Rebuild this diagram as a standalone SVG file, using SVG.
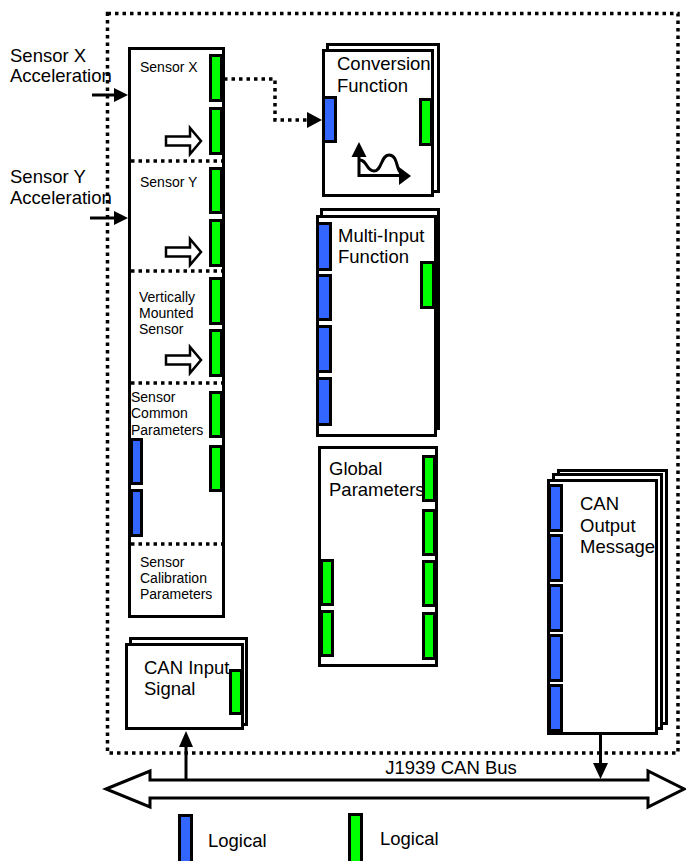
<svg xmlns="http://www.w3.org/2000/svg" width="686" height="861" viewBox="0 0 686 861">
<defs>
<style>
text{font-family:"Liberation Sans",Arial,sans-serif;fill:#000}
.big{font-size:18.5px}
.small{font-size:14px}
.box{fill:#fff;stroke:#000;stroke-width:3}
.g{fill:#00ff00;stroke:#000;stroke-width:3}
.b{fill:#3366ff;stroke:#000;stroke-width:3}
.dot{fill:none;stroke:#000;stroke-width:3.5;stroke-dasharray:3.5 4}
.ln{fill:none;stroke:#000;stroke-width:3}
.hollow{fill:#fff;stroke:#000;stroke-width:2.5;stroke-linejoin:miter}
</style>
<path id="harrow" d="M0,-4.5 H24 V-13 L35,0 L24,13 V4.5 H0 Z"/>
</defs>
<rect width="686" height="861" fill="#fff"/>

<g id="frame">
<rect class="dot" x="107.5" y="13.5" width="570.5" height="739.5"/>
</g>

<g id="inputs">
<text class="big" x="10" y="62">Sensor X</text>
<text class="big" x="10" y="82">Acceleration</text>
<text class="big" x="10" y="183">Sensor Y</text>
<text class="big" x="10" y="204">Acceleration</text>
</g>

<g id="sensor-block">
<rect class="box" x="129.5" y="48.5" width="94" height="568"/>
<line class="dot" x1="131" y1="161" x2="222" y2="161"/>
<line class="dot" x1="131" y1="271" x2="222" y2="271"/>
<line class="dot" x1="131" y1="383" x2="222" y2="383"/>
<line class="dot" x1="131" y1="544" x2="222" y2="544"/>
<text class="small" x="140" y="72">Sensor X</text>
<text class="small" x="140" y="187">Sensor Y</text>
<text class="small" x="139" y="302">Vertically</text>
<text class="small" x="139" y="318">Mounted</text>
<text class="small" x="139" y="334">Sensor</text>
<text class="small" x="131" y="402">Sensor</text>
<text class="small" x="131" y="418">Common</text>
<text class="small" x="131" y="435">Parameters</text>
<text class="small" x="140" y="567">Sensor</text>
<text class="small" x="140" y="583">Calibration</text>
<text class="small" x="140" y="599">Parameters</text>
<use href="#harrow" class="hollow" transform="translate(166,141)"/>
<use href="#harrow" class="hollow" transform="translate(166,252)"/>
<use href="#harrow" class="hollow" transform="translate(166,360)"/>
<rect class="g" x="210.5" y="55.5" width="11" height="45"/>
<rect class="g" x="210.5" y="108.5" width="11" height="45"/>
<rect class="g" x="210.5" y="168.5" width="11" height="44"/>
<rect class="g" x="210.5" y="220.5" width="11" height="45"/>
<rect class="g" x="210.5" y="278.5" width="11" height="45"/>
<rect class="g" x="210.5" y="330.5" width="11" height="45"/>
<rect class="g" x="210.5" y="392.5" width="11" height="44"/>
<rect class="g" x="210.5" y="446.5" width="11" height="44"/>
<rect class="b" x="131.5" y="439.5" width="10" height="44"/>
<rect class="b" x="131.5" y="490.5" width="10" height="45"/>
</g>

<g id="conversion-function">
<rect class="box" x="327.5" y="44.5" width="111" height="147"/>
<rect class="box" x="323.5" y="50.5" width="109" height="145"/>
<text class="big" x="337" y="70">Conversion</text>
<text class="big" x="337" y="92">Function</text>
<rect class="b" x="323.5" y="97.5" width="12" height="44"/>
<rect class="g" x="420.5" y="99.5" width="11" height="45"/>
<path class="ln" d="M359,155 V175.5 H400"/>
<polygon points="351.5,157 366.5,157 359,142"/>
<polygon points="399,167 399,185 411,176"/>
<path class="ln" d="M359,160 C367,159 366,171 374,171 C382,171 381,155 389,155 C398,155 396,170 401,173"/>
</g>

<g id="multi-input-function">
<rect class="box" x="321.5" y="209.5" width="117" height="219"/>
<rect class="box" x="317.5" y="216.5" width="118" height="219"/>
<text class="big" x="338" y="242">Multi-Input</text>
<text class="big" x="338" y="263">Function</text>
<rect class="b" x="317.5" y="223.5" width="13" height="46"/>
<rect class="b" x="317.5" y="275.5" width="13" height="44"/>
<rect class="b" x="317.5" y="326.5" width="13" height="45"/>
<rect class="b" x="317.5" y="378.5" width="13" height="46"/>
<rect class="g" x="421.5" y="262.5" width="12" height="45"/>
</g>

<g id="global-parameters">
<rect class="box" x="319.5" y="447.5" width="117" height="218"/>
<text class="big" x="329" y="475">Global</text>
<text class="big" x="329" y="496">Parameters</text>
<rect class="g" x="423.5" y="456.5" width="11" height="44"/>
<rect class="g" x="423.5" y="510.5" width="11" height="44"/>
<rect class="g" x="423.5" y="561.5" width="11" height="44"/>
<rect class="g" x="423.5" y="613.5" width="11" height="45"/>
<rect class="g" x="321.5" y="560.5" width="11" height="44"/>
<rect class="g" x="321.5" y="611.5" width="11" height="44"/>
</g>

<g id="can-output-message">
<rect class="box" x="558.5" y="470.5" width="108" height="253"/>
<rect class="box" x="553.5" y="474.5" width="108" height="254"/>
<rect class="box" x="548.5" y="480.5" width="108" height="253"/>
<text class="big" x="580" y="510">CAN</text>
<text class="big" x="580" y="532">Output</text>
<text class="big" x="580" y="553">Message</text>
<rect class="b" x="549.5" y="485.5" width="12" height="45"/>
<rect class="b" x="549.5" y="535.5" width="12" height="45"/>
<rect class="b" x="549.5" y="585.5" width="12" height="45"/>
<rect class="b" x="549.5" y="635.5" width="12" height="45"/>
<rect class="b" x="549.5" y="685.5" width="12" height="45"/>
</g>

<g id="can-input-signal">
<rect class="box" x="130.5" y="638.5" width="116" height="86"/>
<rect class="box" x="126.5" y="644.5" width="116" height="84"/>
<text class="big" x="144" y="674">CAN Input</text>
<text class="big" x="144" y="695">Signal</text>
<rect class="g" x="230.5" y="670.5" width="11" height="43"/>
</g>

<g id="can-bus">
<polygon class="ln" points="106,789 150,771 150,780 648,780 648,771 684,789 648,807 648,798 150,798 150,807" style="fill:#fff;stroke-linejoin:miter"/>
<text class="big" x="451" y="774" text-anchor="middle">J1939 CAN Bus</text>
</g>

<g id="connectors">
<line class="ln" x1="92" y1="95" x2="116" y2="95"/>
<polygon points="114,88 128,95 114,102"/>
<line class="ln" x1="90" y1="218" x2="116" y2="218"/>
<polygon points="114,211 128,218 114,225"/>
<path class="dot" d="M224,79 H275 V120 H310"/>
<polygon points="307,112 322,120 307,128"/>
<line class="ln" x1="600.5" y1="735" x2="600.5" y2="765"/>
<polygon points="593,763 608,763 600.5,779"/>
<line class="ln" x1="186" y1="780" x2="186" y2="745"/>
<polygon points="179,747 193,747 186,731"/>
</g>

<g id="legend">
<rect class="b" x="179.5" y="815.5" width="12" height="48"/>
<text class="big" x="208" y="847">Logical</text>
<rect class="g" x="349.5" y="814.5" width="12" height="48"/>
<text class="big" x="380" y="845">Logical</text>
</g>
</svg>
